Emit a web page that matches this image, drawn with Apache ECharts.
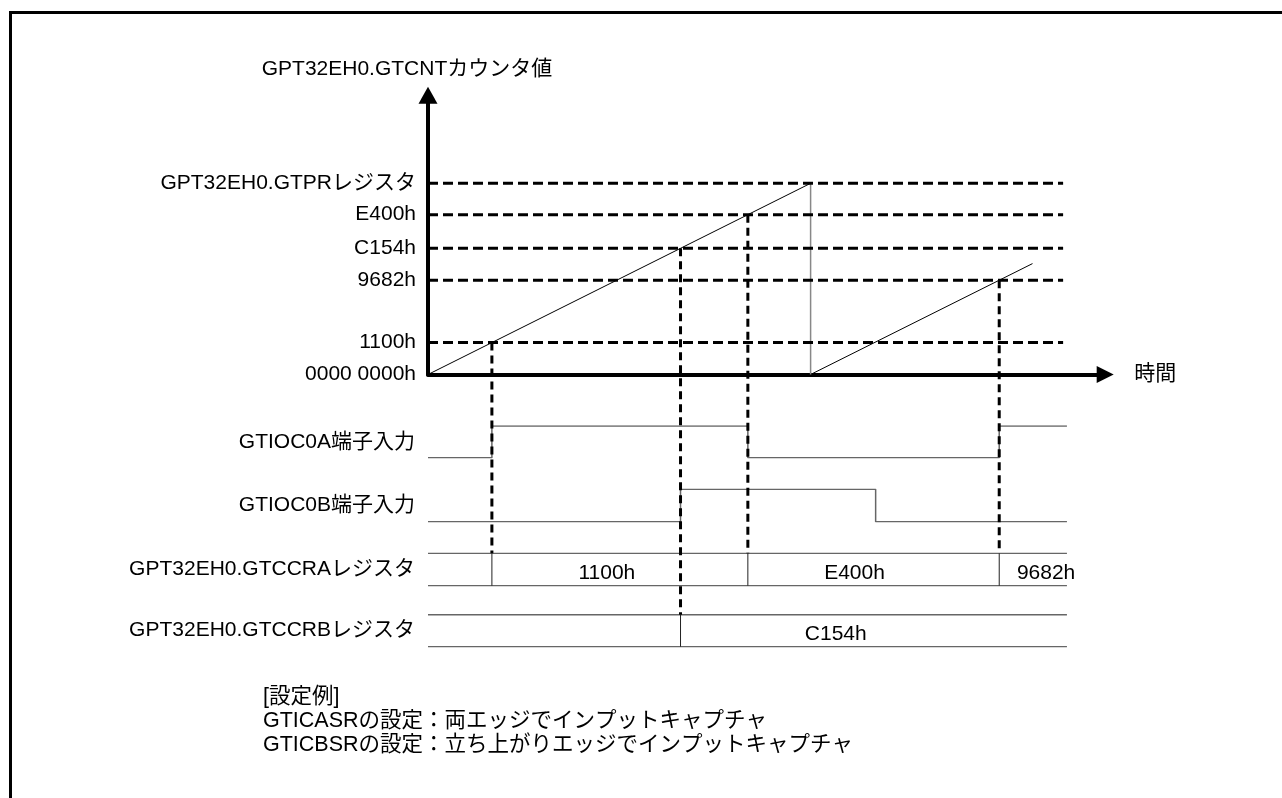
<!DOCTYPE html>
<html>
<head>
<meta charset="utf-8">
<script src="https://cdn.jsdelivr.net/npm/echarts@6/dist/echarts.min.js"></script>
<style>html,body{margin:0;padding:0;background:#fff}#c{width:1282px;height:798px}</style>
</head>
<body>
<div id="c"></div>
<script>
// ---------------- data ----------------
const yAxisTitle = 'GPT32EH0.GTCNTカウンタ値';
const xAxisTitle = '時間';
const levelLabels = ['0000 0000h', '1100h', '9682h', 'C154h', 'E400h', 'GPT32EH0.GTPRレジスタ'];
const levelValues = [0, 16.7, 49.3, 66, 83.6, 100];
const rampUp1 = [[0, 0], [100, 100]];
const rampUp2 = [[100, 0], [158, 58]];
const overflowDrop = [[100, 100], [100, 0]];
const timeEnd = 167;
const levelLineEnd = 166;
const gtioc0aInitial = 0;
const gtioc0aEdges = [16.7, 83.6, 149.3];
const gtioc0bInitial = 0;
const gtioc0bEdges = [66, 117];
const gtccraTimes = [16.7, 83.6, 149.3];
const gtccraValues = ['1100h', 'E400h', '9682h'];
const gtccrbTimes = [66];
const gtccrbValues = ['C154h'];
const laneNames = ['GTIOC0A端子入力', 'GTIOC0B端子入力', 'GPT32EH0.GTCCRAレジスタ', 'GPT32EH0.GTCCRBレジスタ'];
const notes = ['[設定例]', 'GTICASRの設定：両エッジでインプットキャプチャ', 'GTICBSRの設定：立ち上がりエッジでインプットキャプチャ'];

// ---------------- layout / style ----------------
const FONT = '"Liberation Sans", Arial, "Noto Sans CJK JP", sans-serif';
const FS = 21;
const NOTE_FS = 21.5;
const XMAX = 177, YMAX = 146;
const PX_X = 3.826, PX_Y = 1.912;
const LEFT = 428, AXIS_Y = 374.5;
const GRID_W = XMAX * PX_X;
const SIG_COLOR = '#666';

const chart = echarts.init(document.getElementById('c'), null, {renderer: 'canvas'});

function steps(initial, edges, end) {
  const pts = [[0, initial]];
  let v = initial;
  edges.forEach(t => { pts.push([t, v]); v = 1 - v; pts.push([t, v]); });
  pts.push([end, v]);
  return pts;
}
function counterAt(t) {
  for (const r of [rampUp1, rampUp2]) {
    if (t >= r[0][0] && t <= r[1][0]) {
      return r[0][1] + (r[1][1] - r[0][1]) * (t - r[0][0]) / (r[1][0] - r[0][0]);
    }
  }
  return 0;
}

const lanes = [
  {top: 426, height: 31.7},
  {top: 489.3, height: 32.4},
  {top: 553.3, height: 32.4},
  {top: 614.7, height: 32}
];
const laneNamePad = [[4, 0, 0, 0], [0, 0, 0, 0], [0, 0, 6, 0], [10, 0, 0, 0]];

const grids = [{left: LEFT, top: AXIS_Y - YMAX * PX_Y, width: GRID_W, height: YMAX * PX_Y}]
  .concat(lanes.map(l => ({left: LEFT, top: l.top, width: GRID_W, height: l.height})));

const xAxes = grids.map((g, i) => i === 0 ? {
  gridIndex: 0, type: 'value', min: 0, max: XMAX,
  name: xAxisTitle, nameLocation: 'end', nameGap: 29,
  nameTextStyle: {fontFamily: FONT, fontSize: FS, color: '#000', verticalAlign: 'middle'},
  axisLine: {show: true, onZero: false, symbol: ['none', 'triangle'], symbolSize: [17, 17],
    lineStyle: {color: '#000', width: 4}},
  axisTick: {show: false}, axisLabel: {show: false}, splitLine: {show: false}
} : {gridIndex: i, type: 'value', min: 0, max: XMAX, show: false});

const yAxes = grids.map((g, i) => i === 0 ? {
  gridIndex: 0, type: 'value', min: 0, max: YMAX,
  name: yAxisTitle, nameLocation: 'end', nameGap: 16,
  nameTextStyle: {fontFamily: FONT, fontSize: FS, color: '#000', padding: [0, 42, 0, 0]},
  axisLine: {show: true, symbol: ['none', 'triangle'], symbolSize: [19, 17],
    lineStyle: {color: '#000', width: 4}},
  axisTick: {show: false},
  axisLabel: {
    customValues: levelValues, margin: 12, fontFamily: FONT, fontSize: FS, color: '#000',
    formatter: v => {
      let best = 0;
      levelValues.forEach((lv, k) => { if (Math.abs(lv - v) < Math.abs(levelValues[best] - v)) best = k; });
      return levelLabels[best];
    }
  },
  splitLine: {show: false}
} : {
  gridIndex: i, type: 'value', min: 0, max: 1,
  name: laneNames[i - 1], nameLocation: 'middle', nameGap: 13, nameRotate: 0,
  nameTextStyle: {fontFamily: FONT, fontSize: FS, color: '#000', align: 'right', verticalAlign: 'middle', padding: laneNamePad[i - 1]},
  axisLine: {show: false}, axisTick: {show: false}, axisLabel: {show: false}, splitLine: {show: false}
});

function line(data, xi, color, width, type, z) {
  return {type: 'line', xAxisIndex: xi, yAxisIndex: xi, data, symbol: 'none', silent: true,
    animation: false, z: z || 2, lineStyle: {color, width, type: type || 'solid'}};
}

const series = [];
levelValues.forEach(v => {
  if (v > 0) series.push(line([[0, v], [levelLineEnd, v]], 0, '#000', 3, [10, 5], 3));
});
series.push(line(rampUp1, 0, '#000', 1));
series.push(line(rampUp2, 0, '#000', 1));
series.push(line(overflowDrop, 0, '#888', 1.5));

series.push(line(steps(gtioc0aInitial, gtioc0aEdges, timeEnd), 1, SIG_COLOR, 1.5));
series.push(line(steps(gtioc0bInitial, gtioc0bEdges, timeEnd), 2, SIG_COLOR, 1.5));

const busLabelShift = [[-13, -19, 13], [-38]];
[[gtccraTimes, gtccraValues, 3], [gtccrbTimes, gtccrbValues, 4]].forEach(([times, vals, gi], bi) => {
  series.push(line([[0, 1], [timeEnd, 1]], gi, SIG_COLOR, 1.5));
  series.push(line([[0, 0], [timeEnd, 0]], gi, SIG_COLOR, 1.5));
  times.forEach(t => series.push(line([[t, 0], [t, 1]], gi, '#222', 1)));
  series.push({
    type: 'scatter', xAxisIndex: gi, yAxisIndex: gi, symbolSize: 0, silent: true, animation: false,
    itemStyle: {color: '#000', opacity: 1},
    data: times.map((t, k) => {
      const nxt = k + 1 < times.length ? times[k + 1] : timeEnd;
      return {value: [(t + nxt) / 2, 0.4], name: vals[k],
        label: {offset: [busLabelShift[bi][k], 0]}};
    }),
    label: {show: true, position: 'inside', formatter: p => p.name, fontFamily: FONT, fontSize: FS,
      color: '#000', opacity: 1, textBorderWidth: 0}
  });
});

chart.setOption({
  backgroundColor: '#fff',
  animation: false,
  grid: grids,
  xAxis: xAxes,
  yAxis: yAxes,
  series
});

// graphics: frame, notes, capture dashed lines (positions via library conversion)
const graphics = [{
  type: 'polyline', silent: true,
  shape: {points: [[10.5, 798], [10.5, 12.5], [1282, 12.5]]},
  style: {stroke: '#000', lineWidth: 3, fill: null}
}];
notes.forEach((t, k) => graphics.push({
  type: 'text', silent: true, x: 263, y: 697 + k * 24,
  style: {text: t, fontFamily: FONT, fontSize: NOTE_FS, fill: '#000', verticalAlign: 'middle', align: 'left'}
}));
const caps = gtccraTimes.map(t => ({t, gi: 3})).concat(gtccrbTimes.map(t => ({t, gi: 4})));
caps.forEach(c => {
  const p1 = chart.convertToPixel({gridIndex: 0}, [c.t, counterAt(c.t)]);
  const p2 = chart.convertToPixel({gridIndex: c.gi}, [c.t, 1]);
  graphics.push({
    type: 'line', silent: true, z: 100,
    shape: {x1: p1[0], y1: p1[1], x2: p2[0], y2: p2[1]},
    style: {stroke: '#000', lineWidth: 3, lineDash: [8, 5]}
  });
});
chart.setOption({graphic: graphics});
</script>
</body>
</html>
